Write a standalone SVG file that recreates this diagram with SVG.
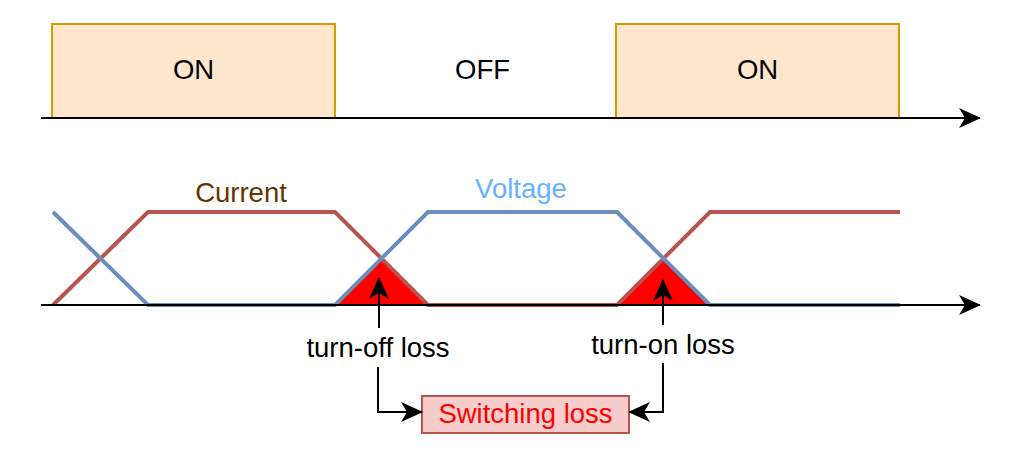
<svg xmlns="http://www.w3.org/2000/svg" width="1024" height="460" viewBox="0 0 1024 460">
<style>
text{font-family:"Liberation Sans",Arial,sans-serif;font-size:27.5px;text-anchor:middle}
.state{fill:#ffe6cc;stroke:#d79b00;stroke-width:2}
.axis{fill:none;stroke:#000;stroke-width:2}
.cur{fill:none;stroke:#b85450;stroke-width:4;stroke-linejoin:miter}
.volt{fill:none;stroke:#6c8ebf;stroke-width:4;stroke-linejoin:miter}
.loss{fill:#ff0000;stroke:none}
.conn{fill:none;stroke:#000;stroke-width:2}
</style>
<defs>
<marker id="arr" viewBox="0 0 22 20" refX="21" refY="10" markerWidth="22" markerHeight="20" markerUnits="userSpaceOnUse" orient="auto">
<path d="M0,0 L22,10 L0,20 L6,10 Z" fill="#000"/>
</marker>
</defs>
<rect width="1024" height="460" fill="#fff"/>
<g id="on1"><rect class="state" x="52" y="24" width="283" height="94"/><text x="193.5" y="79">ON</text></g>
<g id="off"><text x="482.5" y="79">OFF</text></g>
<g id="on2"><rect class="state" x="616" y="24" width="283" height="94"/><text x="757.5" y="79">ON</text></g>
<g id="loss-areas">
<polygon class="loss" points="335,305 382,258 428,305"/>
<polygon class="loss" points="617,305 664,258 710,305"/>
</g>
<g id="current"><polyline class="cur" points="53,305 148,212 335,212 428,305 617,305 710,212 900,212"/><text x="241" y="202" fill="#663300">Current</text></g>
<g id="voltage"><polyline class="volt" points="53,212 148,305 335,305 428,212 617,212 710,305 900,305"/><text x="521" y="198" fill="#66b2ff">Voltage</text></g>
<g id="turn-off"><text x="378" y="357">turn-off loss</text></g>
<g id="turn-on"><text x="663" y="354">turn-on loss</text></g>
<g id="switching"><rect x="422" y="396" width="207" height="37" fill="#f8cecc" stroke="#b85450" stroke-width="2"/><text x="525.5" y="423" fill="#ff0000">Switching loss</text></g>
<g id="connectors">
<line class="axis" x1="41" y1="118" x2="980" y2="118" marker-end="url(#arr)"/>
<line class="axis" x1="41" y1="305" x2="980" y2="305" marker-end="url(#arr)"/>
<line class="conn" x1="379" y1="328" x2="379" y2="278" marker-end="url(#arr)"/>
<line class="conn" x1="663" y1="325" x2="663" y2="280" marker-end="url(#arr)"/>
<polyline class="conn" points="378,367 378,412 422,412" marker-end="url(#arr)"/>
<polyline class="conn" points="663,363 663,412 629,412" marker-end="url(#arr)"/>
</g>
</svg>
